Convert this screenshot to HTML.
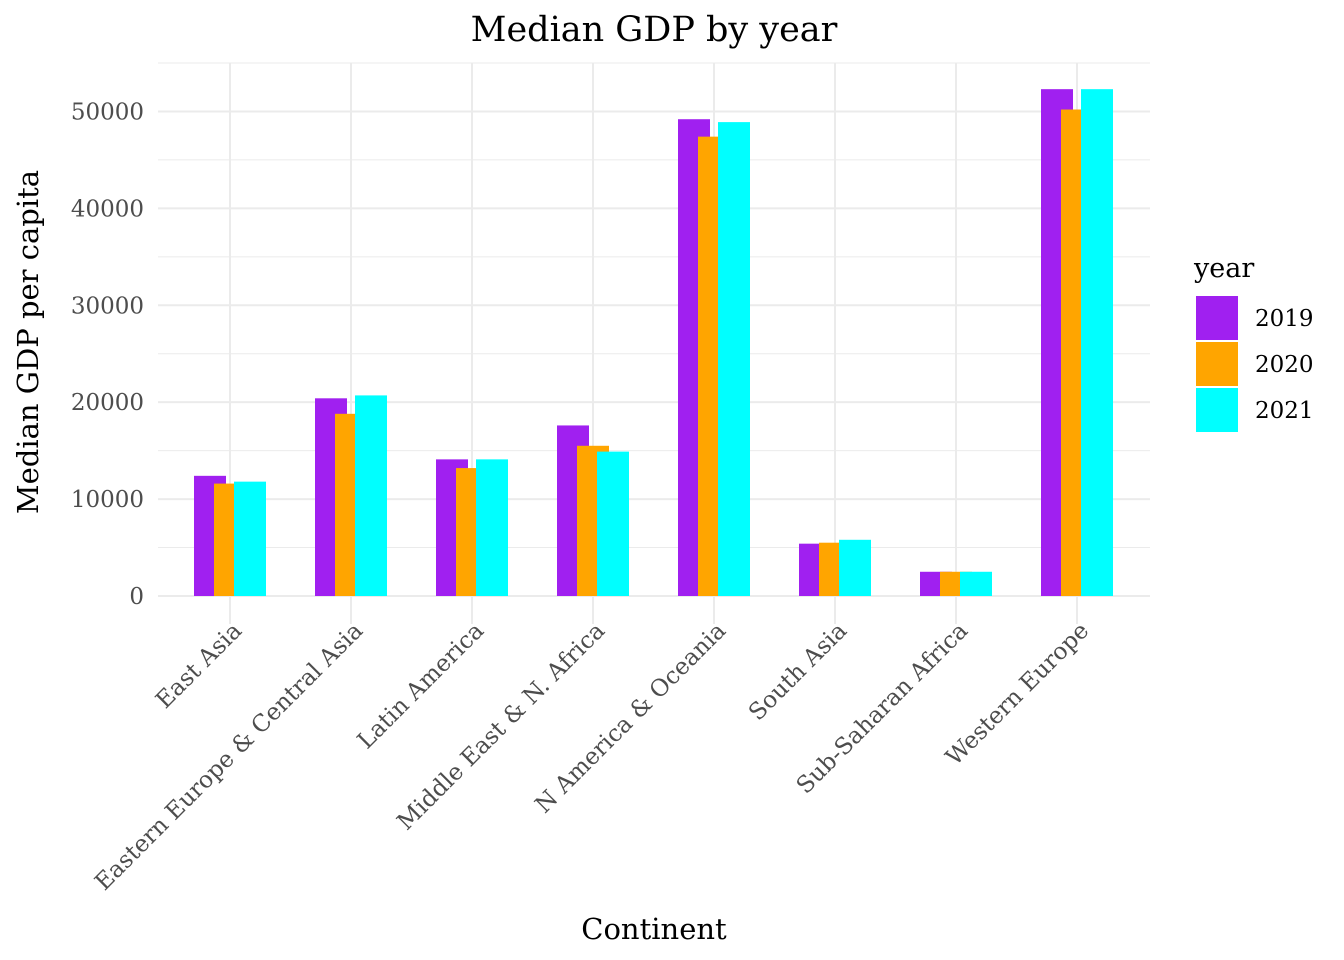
<!DOCTYPE html>
<html><head><meta charset="utf-8"><style>
html,body{margin:0;padding:0;background:#fff;}
svg{display:block;font-family:"DejaVu Serif","Liberation Serif",serif;}
</style></head><body>
<svg id="chart" width="1344" height="960" viewBox="0 0 1344 960">
<text x="654" y="41" text-anchor="middle" font-size="35" fill="#000">Median GDP by year</text>
<g id="grid"></g><g id="bars"></g><g id="xlabels"></g><g id="ylabels"></g>
<text x="654" y="939" text-anchor="middle" font-size="29" fill="#000">Continent</text>
<text transform="translate(38,342) rotate(-90)" text-anchor="middle" font-size="29" fill="#000">Median GDP per capita</text>
<g id="legend"></g>
</svg>
<script>
const categories=["East Asia","Eastern Europe & Central Asia","Latin America","Middle East & N. Africa","N America & Oceania","South Asia","Sub-Saharan Africa","Western Europe"];
const years=["2019","2020","2021"];
const v2019=[12400,20400,14100,17600,49200,5400,2500,52300];
const v2020=[11600,18800,13200,15500,47400,5500,2500,50200];
const v2021=[11800,20700,14100,14900,48900,5800,2500,52300];
const yTicks=[0,10000,20000,30000,40000,50000];
const colors=["#A020F0","#FFA500","#00FFFF"];
const series=[v2019,v2020,v2021];
const NS="http://www.w3.org/2000/svg";
const x0=158,x1=1150,y0=596,yMax=55000,yTop=63;
const step=121;
const xc=i=>230+step*i;
const ys=v=>y0-(v/yMax)*(y0-yTop);
function mk(t,a,p){const e=document.createElementNS(NS,t);for(const k in a)e.setAttribute(k,a[k]);p.appendChild(e);return e;}
const grid=document.getElementById('grid');
for(let v=0;v<=yMax;v+=5000){const l=mk('line',{x1:x0,x2:x1,y1:ys(v),y2:ys(v),stroke:'#ebebeb','stroke-width':v%10000?1:2},grid);

}
categories.forEach((c,i)=>{const l=mk('line',{x1:xc(i),x2:xc(i),y1:yTop,y2:y0+28,stroke:'#ebebeb','stroke-width':2},grid);

});
const bars=document.getElementById('bars');
const bw=32,off=20;
series.forEach((s,j)=>{s.forEach((v,i)=>{const cx=xc(i)+(j-1)*off;
const r=mk('rect',{x:cx-bw/2,y:ys(v),width:bw,height:y0-ys(v),fill:colors[j]},bars);

});});
const yl=document.getElementById('ylabels');
yTicks.forEach(t=>{const e=mk('text',{x:144,y:ys(t)+8,'text-anchor':'end','font-size':23,fill:'#4d4d4d'},yl);e.textContent=t;

});
const xl=document.getElementById('xlabels');
categories.forEach((c,i)=>{const e=mk('text',{transform:`translate(${xc(i)+13},${y0+36}) rotate(-45)`,'text-anchor':'end','font-size':23.3,fill:'#4d4d4d'},xl);e.textContent=c;

});
const lg=document.getElementById('legend');
const tt=mk('text',{x:1194,y:277,'font-size':27,fill:'#000'},lg);tt.textContent='year';


years.forEach((y,j)=>{const r=mk('rect',{x:1196,y:296+j*46,width:42,height:44,fill:colors[j]},lg);


const t=mk('text',{x:1255,y:326+j*46,'font-size':23,fill:'#000'},lg);t.textContent=y;

});
</script>
</body></html>
